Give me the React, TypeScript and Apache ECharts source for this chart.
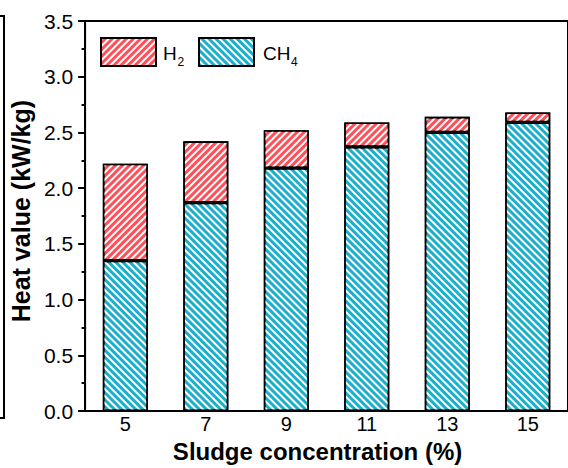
import React, { useEffect, useRef } from "react";
import * as echarts from "echarts";

const categories = ["5", "7", "9", "11", "13", "15"];
const ch4Values = [1.35, 1.87, 2.18, 2.37, 2.5, 2.59];
const h2Values = [0.87, 0.55, 0.34, 0.22, 0.14, 0.09];
const yMin = 0;
const yMax = 3.5;
const yInterval = 0.5;

const FONT = "'Liberation Sans', Arial, sans-serif";
const RED = "#FF4F58";
const CYAN = "#1AAFCC";

export default function App() {
  const ref = useRef<HTMLDivElement>(null);
  useEffect(() => {
    document.body.style.margin = "0";
    if (!ref.current) return;
    const chart = echarts.init(ref.current, undefined, { renderer: "svg" });
    const decalBase = {
      symbol: "rect",
      symbolSize: 1,
      color: "#ffffff",
      backgroundColor: null,
      dashArrayX: [[1, 0]],
      dashArrayY: [2, 3],
    };
    const legendText = (text: string, x: number, y: number, size: number) => ({
      type: "text",
      x,
      y,
      silent: true,
      style: {
        text,
        fill: "#000",
        fontSize: size,
        fontFamily: FONT,
        align: "left",
        verticalAlign: "middle",
      },
    });
    chart.setOption({
      animation: false,
      backgroundColor: "#ffffff",
      textStyle: { fontFamily: FONT },
      grid: {
        left: 84,
        top: 21,
        width: 495,
        height: 401,
        show: true,
        borderColor: "#000",
        borderWidth: 2,
        backgroundColor: "transparent",
      },
      legend: {
        left: 100,
        top: 37,
        padding: 0,
        itemWidth: 55,
        itemHeight: 28,
        itemGap: 41,
        selectedMode: false,
        data: ["H2", "CH4"],
        icon: "rect",
        formatter: () => "",
        textStyle: { fontSize: 19, color: "#000", fontFamily: FONT },
      },
      xAxis: {
        type: "category",
        data: categories,
        name: "Sludge concentration (%)",
        nameLocation: "middle",
        nameGap: 21,
        nameTextStyle: {
          fontSize: 24,
          fontWeight: "bold",
          color: "#000",
          fontFamily: FONT,
          padding: [0, 18, 0, 0],
        },
        axisLine: { lineStyle: { color: "#000", width: 2 } },
        axisTick: { show: false },
        axisLabel: {
          interval: 0,
          fontSize: 20,
          color: "#000",
          margin: 3,
          fontFamily: FONT,
        },
        splitLine: { show: false },
      },
      yAxis: {
        type: "value",
        min: yMin,
        max: yMax,
        interval: yInterval,
        name: "Heat value (kW/kg)",
        nameLocation: "middle",
        nameGap: 46,
        nameTextStyle: {
          fontSize: 25,
          fontWeight: "bold",
          color: "#000",
          fontFamily: FONT,
          padding: [0, 0, 0, 10],
        },
        axisLine: { show: true, lineStyle: { color: "#000", width: 2 } },
        axisTick: { show: true, inside: false, length: 7, lineStyle: { color: "#000", width: 2 } },
        minorTick: { show: true, splitNumber: 2, length: 3.5, lineStyle: { color: "#000", width: 2 } },
        axisLabel: {
          fontSize: 21,
          color: "#000",
          margin: 12,
          fontFamily: FONT,
          formatter: (v: number) => v.toFixed(1),
        },
        splitLine: { show: false },
      },
      series: [
        {
          name: "CH4",
          type: "bar",
          stack: "total",
          barWidth: 45,
          data: ch4Values,
          itemStyle: {
            color: CYAN,
            borderColor: "#000",
            borderWidth: 1.6,
            decal: { ...decalBase, rotation: Math.PI / 4 },
          },
        },
        {
          name: "H2",
          type: "bar",
          stack: "total",
          barWidth: 45,
          data: h2Values,
          itemStyle: {
            color: RED,
            borderColor: "#000",
            borderWidth: 1.6,
            decal: { ...decalBase, rotation: -Math.PI / 4 },
          },
        },
      ],
      graphic: [
        {
          type: "polyline",
          shape: { points: [[0, 16], [4, 16], [4, 418], [0, 418]] },
          style: { stroke: "#000", lineWidth: 2, fill: null },
        },
        legendText("H", 163, 53, 19),
        legendText("2", 177.5, 62, 12),
        legendText("CH", 263, 53, 19),
        legendText("4", 291, 62, 12),
      ],
    });
    return () => chart.dispose();
  }, []);
  return (
    <div
      ref={ref}
      style={{ position: "absolute", left: 0, top: 0, width: 568, height: 468 }}
    />
  );
}
